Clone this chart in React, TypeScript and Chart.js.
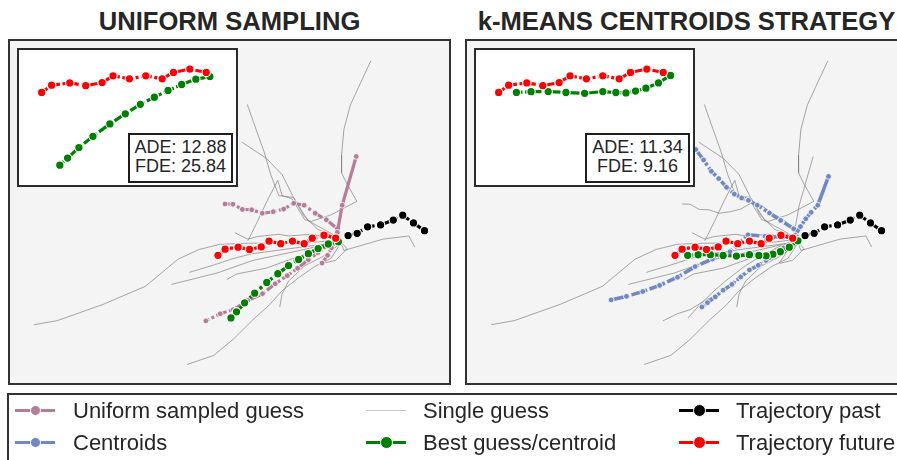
import React, { useEffect, useRef } from "react";
import { Chart, registerables } from "chart.js";

Chart.register(...registerables);

type Pt = [number, number];

// ---------- scene data (same scene in both panels; x to the right, y upward) ----------
const pastTrajectory: Pt[] = [[421.3,153.7],[410,161.7],[399,169.7],[389.3,164.7],[376.3,159.7],[363,157.7],[352.3,151],[343,148.7]];
const futureTrajectory: Pt[] = [[330.3,146],[318.3,149],[306.3,146],[298,140.3],[286,143],[274,140.3],[262,143],[254,137],[242,134.3],[230.3,136.7],[217,134.7],[209.7,128.3]];
const bestUniformGuess: Pt[] = [[333,142.3],[322.7,140],[312.3,135.3],[302.3,130],[292.3,124],[282,117.7],[271,109.3],[259.7,100.3],[247.3,89.3],[237,79.3],[228.7,70],[223,63.7]];
const bestCentroid: Pt[] = [[335.7,143.3],[326.8,136.7],[317.6,132],[310,129.5],[303,127.8],[295.6,128.2],[286,129],[272.7,127.5],[259,128.2],[246,129],[233.4,128.9],[222.7,128.3]];

const uniformGuessA: Pt[] = [[332,155.7],[320.7,165],[309.3,171.7],[298,180],[287.3,182],[277,176],[266.3,173.3],[255,171.7],[244.3,175.3],[234.7,175.7],[225,181],[217,181.3]];
const uniformGuessB: Pt[] = [[332,145],[322,138.3],[312,131],[302.3,123.7],[291.3,115],[280.7,107.3],[268.3,99],[255.3,88.7],[240.3,81.7],[225.3,72.3],[212,68],[197.3,60.7]];
const uniformGuessC: Pt[] = [[316.3,120.3],[322,128.3],[326,136],[329,143],[332,152],[337,180],[351.3,230.3]];

const centroidA: Pt[] = [[331.3,155.7],[318,164.3],[306.5,172],[294,180],[285,185],[278,187.5],[270.5,191.5],[262.5,198.5],[254.5,207.5],[247,215],[239,226.7],[231,237.5]];
const centroidB: Pt[] = [[333,149],[338.3,158],[343.7,166],[349.2,172.7],[356,180],[367,209.7]];
const centroidC: Pt[] = [[335,147],[320,147],[302,148],[284.5,149.5],[275,140],[266,132],[248,124.5],[230.3,116.7],[212.3,105.7],[194,97.3],[176.7,91],[160,86],[144.3,82.3]];
const centroidD: Pt[] = [[330,143],[321,136],[312,129],[303,123],[295,118],[286,113.3],[277,106],[268,98.3],[259,92.3],[251,85.5],[243,79.5],[237.3,75]];

const singleGuessA: Pt[] = [[335,145],[312,142],[282,141],[254,141],[238.7,140.7],[212,139.7],[190.3,134.3],[168.7,124.3],[135.3,96.3],[92,77.7],[45.3,61],[21.3,56.7]];
const singleGuessB: Pt[] = [[335,140],[325.3,125],[308.7,116.7],[292,105],[275.3,91.7],[262,76.7],[245.3,61.7],[225.3,41.7],[205.3,25],[178,15.7]];
const singleGuessC: Pt[] = [[335,140],[317,127],[298.7,117.7],[282,101.7],[275.3,88.3],[273,75]];
const singleGuessD: Pt[] = [[335,143],[292,133],[245.3,123],[208.7,110],[162,98.3]];
const singleGuessE: Pt[] = [[335,142],[282,135],[245,130],[225.3,125],[205.3,118.3],[180.3,110.7]];
const singleGuessF: Pt[] = [[335,141],[292,127],[258.7,115],[228.7,109],[218.7,103.3]];
const singleGuessG: Pt[] = [[335,145],[305.3,150],[282,148.3],[272,150],[250.3,147.7],[240.3,145],[227,151.7]];
const singleGuessH: Pt[] = [[335,143],[338.7,133.3],[378.7,145],[405.3,148.3],[411.3,136.7]];
const singleGuessI: Pt[] = [[366.3,329],[353.7,301.7],[345.3,283.3],[338.7,258.3],[336.3,231.7],[336.3,213.3],[342,201.7],[352,184],[325.3,170],[305.3,163.3],[298.7,165],[285.3,186.7],[275.3,190],[271,205.7],[260.3,185],[250,163],[240.3,143.3]];
const singleGuessJ: Pt[] = [[239.7,284],[248.7,258.3],[257,235],[263.7,211.7],[272,190],[287,188],[302,164],[322,153],[335,145]];
const singleGuessK: Pt[] = [[234.3,245],[259.3,228.3],[275.3,211.7],[287,188.3],[297,170],[312,155],[335,145]];
const singleGuessL: Pt[] = [[335,143],[342,135],[330,123],[317,120]];

const singleGuesses: Pt[][] = [singleGuessA, singleGuessB, singleGuessC, singleGuessD, singleGuessE, singleGuessF, singleGuessG, singleGuessH, singleGuessI, singleGuessJ, singleGuessK, singleGuessL];
const uniformGuesses: Pt[][] = [uniformGuessA, uniformGuessB, uniformGuessC];
const centroids: Pt[][] = [centroidA, centroidB, centroidC, centroidD];

// scene window of the main panels and of the zoomed insets
const sceneXRange: [number, number] = [0, 443];
const sceneYRange: [number, number] = [0, 346];
const insetXRange: [number, number] = [195.5, 349.7];
const insetYRange: [number, number] = [49.0, 163.0];

const panelTitles = ["UNIFORM SAMPLING", "k-MEANS CENTROIDS STRATEGY"];
const adeValues = ["12.88", "11.34"];
const fdeValues = ["25.84", "9.16"];

const legendLabels = ["Uniform sampled guess", "Centroids", "Single guess", "Best guess/centroid", "Trajectory past", "Trajectory future"];

// ---------- styles ----------
const GRAY = "rgba(130,130,130,0.7)";
const PINK = "#b47d98";
const BLUE = "#7189c0";
const GREEN = "#008000";
const RED = "#ff0000";
const BLACK = "#000000";
const DASH = [11, 2.5, 3, 2.5];

type Style = { width: number; dash?: number[]; radius?: number; ring?: number; solidLong?: boolean };

function series(points: Pt[], color: string, s: Style) {
  const ds: any = {
    data: points.map(([x, y]) => ({ x, y })),
    showLine: true,
    borderColor: color,
    backgroundColor: color,
    borderWidth: s.width,
    borderDash: s.dash ?? [],
    pointRadius: s.radius ?? 0,
    pointHoverRadius: s.radius ?? 0,
    pointBackgroundColor: color,
    pointBorderColor: "#ffffff",
    pointBorderWidth: s.ring ?? 0,
    tension: 0,
    fill: false,
  };
  if (s.solidLong) {
    ds.segment = {
      borderDash: (ctx: any) => {
        const dx = ctx.p1.x - ctx.p0.x;
        const dy = ctx.p1.y - ctx.p0.y;
        return Math.hypot(dx, dy) > 22 ? [] : s.dash;
      },
    };
  }
  return ds;
}

const thin: Style = { width: 1 };
const small: Style = { width: 3.2, dash: DASH, radius: 2.9, ring: 0.8, solidLong: true };
const big: Style = { width: 3.2, dash: DASH, radius: 4.2, ring: 1.1 };

function buildChart(canvas: HTMLCanvasElement, layers: any[], xr: [number, number], yr: [number, number]) {
  const datasets = layers.map((d, i) => ({ ...d, order: layers.length - i }));
  return new Chart(canvas, {
    type: "scatter",
    data: { datasets },
    options: {
      animation: false,
      responsive: false,
      maintainAspectRatio: false,
      events: [],
      layout: { padding: 0 },
      plugins: { legend: { display: false }, tooltip: { enabled: false } },
      scales: {
        x: { type: "linear", display: false, min: xr[0], max: xr[1] },
        y: { type: "linear", display: false, min: yr[0], max: yr[1] },
      },
    },
  } as any);
}

function Panel({ index, left }: { index: number; left: number }) {
  const mainRef = useRef<HTMLCanvasElement>(null);
  const insetRef = useRef<HTMLCanvasElement>(null);
  useEffect(() => {
    const layers: any[] = [];
    if (index === 0) {
      singleGuesses.forEach((g) => layers.push(series(g, GRAY, thin)));
      uniformGuesses.forEach((g) => layers.push(series(g, PINK, small)));
      layers.push(series(bestUniformGuess, PINK, small));
      layers.push(series(bestUniformGuess, GREEN, big));
    } else {
      [...singleGuesses, ...uniformGuesses, bestUniformGuess].forEach((g) => layers.push(series(g, GRAY, thin)));
      centroids.forEach((g) => layers.push(series(g, BLUE, { ...small, width: 3.6 })));
      layers.push(series(bestCentroid, GREEN, big));
    }
    layers.push(series(pastTrajectory, BLACK, big));
    layers.push(series(futureTrajectory, RED, big));
    const main = buildChart(mainRef.current!, layers, sceneXRange, sceneYRange);
    const best = index === 0 ? bestUniformGuess : bestCentroid;
    const inset = buildChart(
      insetRef.current!,
      [series(best, GREEN, big), series(futureTrajectory, RED, big)],
      insetXRange,
      insetYRange
    );
    return () => {
      main.destroy();
      inset.destroy();
    };
  }, [index]);

  return (
    <>
      <div
        style={{
          position: "absolute", left, top: 9, width: 443, textAlign: "center",
          fontSize: 25.6, fontWeight: "bold", lineHeight: "25px", whiteSpace: "nowrap", color: "#262626",
        }}
      >
        {panelTitles[index]}
      </div>
      <div style={{ position: "absolute", left, top: 39, width: 443, height: 346, background: "#f4f4f4" }}>
        <canvas ref={mainRef} width={443} height={346} style={{ display: "block" }} />
        <div style={{ position: "absolute", inset: 0, border: "2px solid #333", boxSizing: "border-box" }} />
        <div style={{ position: "absolute", left: 9, top: 9, width: 221, height: 139, background: "#ffffff" }}>
          <canvas ref={insetRef} width={221} height={139} style={{ display: "block" }} />
          <div style={{ position: "absolute", inset: 0, border: "2px solid #2b2b2b", boxSizing: "border-box" }} />
          <div
            style={{
              position: "absolute", left: 111, top: 85, width: 105, height: 50, boxSizing: "border-box",
              border: "2px solid #1e1e1e", background: "#fff", fontSize: 18, lineHeight: "19px",
              textAlign: "center", paddingTop: 3, color: "#262626",
            }}
          >
            <div>ADE: {adeValues[index]}</div>
            <div>FDE: {fdeValues[index]}</div>
          </div>
        </div>
      </div>
    </>
  );
}

const legendColors = [PINK, BLUE, "#c9c9c9", GREEN, BLACK, RED];
const legendColX = [15, 366, 679];
const legendTextX = [73, 423, 736];
const legendRowY = [410.5, 442];

function Legend() {
  return (
    <>
      <div
        style={{
          position: "absolute", left: 7, top: 393, width: 1000, height: 120,
          border: "2px solid #333", boxSizing: "border-box",
        }}
      />
      {legendLabels.map((label, i) => {
        const col = Math.floor(i / 2);
        const row = i % 2;
        const y = legendRowY[row];
        const x0 = legendColX[col];
        const color = legendColors[i];
        const isThin = i === 2;
        const dot = i === 0 || i === 1 ? 9 : 11;
        return (
          <React.Fragment key={label}>
            <div
              style={{
                position: "absolute", left: x0, top: y - (isThin ? 0.75 : 1.5), width: 40,
                height: isThin ? 1.5 : 3, background: color,
              }}
            />
            {!isThin && (
              <div
                style={{
                  position: "absolute", left: x0 + 20 - dot / 2 - 1, top: y - dot / 2 - 1,
                  width: dot, height: dot, borderRadius: "50%", background: color,
                  border: "1px solid #fff",
                }}
              />
            )}
            <div
              style={{
                position: "absolute", left: legendTextX[col], top: y - 12.5, fontSize: 22,
                lineHeight: "25px", whiteSpace: "nowrap", color: "#262626",
              }}
            >
              {label}
            </div>
          </React.Fragment>
        );
      })}
    </>
  );
}

export default function App() {
  return (
    <div
      style={{
        position: "fixed", left: 0, top: 0, width: 897, height: 460, overflow: "hidden",
        background: "#ffffff", fontFamily: '"Liberation Sans", Arial, Helvetica, sans-serif',
      }}
    >
      <Panel index={0} left={8} />
      <Panel index={1} left={465} />
      <Legend />
    </div>
  );
}
